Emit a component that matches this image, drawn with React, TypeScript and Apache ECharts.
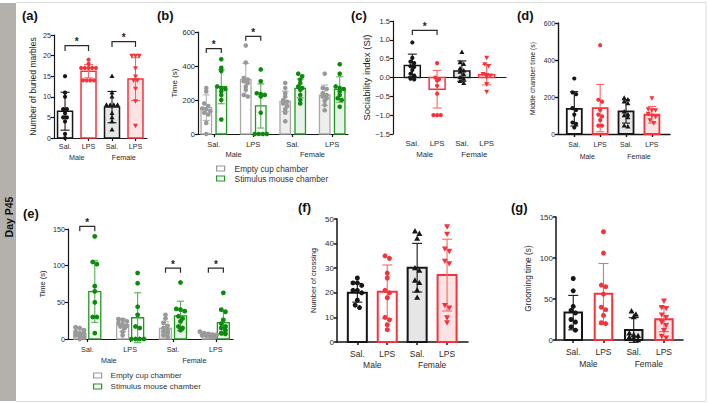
import React, { useEffect, useRef } from 'react';
import * as echarts from 'echarts';

const FONT = '"Liberation Sans", Arial, Helvetica, sans-serif';

// ---------- shared labels ----------
const catLabels = ['Sal.', 'LPS', 'Sal.', 'LPS'];
const sexLabels = ['Male', 'Female'];
const legendLabels = ['Empty cup chamber', 'Stimulus mouse chamber'];

// ---------- (a) buried marbles ----------
const aMeans = [6.5, 16.2, 7.5, 14.3];
const aSDs = [4.6, 1.6, 3.8, 5.2];
const aMaleSal = [15, 11, 10, 7, 7, 6, 5, 5, 4, 1, 0];
const aMaleLps = [19, 18, 17, 17, 17, 17, 17, 14, 14, 14, 14];
const aFemaleSal = [15, 11, 10, 8, 8, 8, 8, 6, 5, 4, 2];
const aFemaleLps = [20, 20, 20, 17, 15, 14, 14, 12, 9, 3];

// ---------- (b) three-chamber time (s) ----------
// order: M-Sal empty, M-Sal stim, M-LPS empty, M-LPS stim, F-Sal empty, F-Sal stim, F-LPS empty, F-LPS stim
const bMeans = [155, 278, 320, 165, 192, 268, 228, 262];
const bSDs = [75, 100, 95, 130, 60, 55, 60, 75];
const bMaleSalEmpty = [270, 250, 180, 165, 150, 145, 135, 125, 115, 65, 0];
const bMaleSalStim = [440, 390, 370, 280, 270, 265, 250, 230, 200, 85];
const bMaleLpsEmpty = [520, 420, 330, 320, 310, 300, 280, 260, 230, 220];
const bMaleLpsStim = [380, 310, 240, 235, 230, 220, 125, 0, 0, 0, 0];
const bFemaleSalEmpty = [300, 270, 240, 220, 200, 190, 180, 165, 145, 125, 75];
const bFemaleSalStim = [355, 340, 320, 300, 280, 270, 260, 230, 200, 180];
const bFemaleLpsEmpty = [355, 270, 265, 240, 230, 220, 210, 195, 170, 140];
const bFemaleLpsStim = [410, 355, 280, 270, 265, 250, 230, 210, 200, 160];

// ---------- (c) sociability index ----------
const cMeans = [0.32, -0.31, 0.17, 0.075];
const cSDs = [0.3, 0.5, 0.27, 0.27];
const cMaleSal = [0.93, 0.52, 0.42, 0.38, 0.3, 0.28, 0.2, 0.1, 0.05, -0.03, -0.05];
const cMaleLps = [0.38, 0.0, -0.05, -0.08, -0.22, -0.43, -1, -1, -1];
const cFemaleSal = [0.67, 0.4, 0.35, 0.24, 0.18, 0.15, 0.08, 0.0, -0.04, -0.1, -0.15];
const cFemaleLps = [0.53, 0.36, 0.31, 0.1, 0.07, 0.06, 0.02, -0.17, -0.37];

// ---------- (d) middle chamber time ----------
const dMeans = [136, 140, 122, 104];
const dSDs = [93, 128, 63, 45];
const dMaleSal = [300, 225, 215, 140, 130, 105, 62, 55, 35];
const dMaleLps = [480, 185, 175, 130, 105, 95, 75, 45, 45];
const dFemaleSal = [195, 185, 175, 165, 120, 105, 100, 90, 45, 40];
const dFemaleLps = [195, 135, 130, 130, 110, 100, 95, 75, 60];

// ---------- (e) social novelty time (s) ----------
const eMeans = [7.8, 64.7, 19, 29, 14.6, 31.5, 5.5, 22.3];
const eSDs = [5, 42, 9, 34, 9, 20, 2.5, 17];
const eMaleSalEmpty = [16, 15, 12, 10, 8, 7, 5, 4, 2, 0];
const eMaleSalStim = [140, 105, 102, 72, 65, 50, 30, 30, 8];
const eMaleLpsEmpty = [27, 26, 24, 22, 20, 18, 17, 15, 10, 5];
const eMaleLpsStim = [90, 76, 44, 33, 17, 15, 0, 0, 0, 0];
const eFemaleSalEmpty = [33, 28, 22, 18, 15, 12, 10, 8, 5, 3];
const eFemaleSalStim = [77, 41, 40, 38, 31, 28, 24, 17, 15, 12];
const eFemaleLpsEmpty = [10, 8, 7, 6, 6, 5, 4, 3, 2];
const eFemaleLpsStim = [63, 40, 37, 26, 21, 17, 15, 12, 8, 7];

// ---------- (f) number of crossing ----------
const fMeans = [20, 20.4, 30.2, 27.2];
const fSDs = [3.8, 10.9, 9.9, 14.6];
const fMaleSal = [26, 24, 24, 23, 21, 21, 20, 17, 15, 14];
const fMaleLps = [35, 34, 28, 26, 21, 20, 18, 10, 9, 7, 5];
const fFemaleSal = [45, 44, 42, 30, 29, 25, 24, 21, 18];
const fFemaleLps = [47, 44, 38, 37, 33, 32, 15, 14, 10, 8];

// ---------- (g) grooming time ----------
const gMeans = [33.4, 56.3, 12.2, 25.3];
const gSDs = [21, 37, 15, 15];
const gMaleSal = [75, 60, 41, 36, 33, 25, 22, 16, 12];
const gMaleLps = [132, 106, 67, 65, 56, 40, 37, 30, 21, 20];
const gFemaleSal = [35, 31, 28, 8, 6, 5, 3, 2, 0];
const gFemaleLps = [48, 40, 39, 31, 28, 22, 18, 12, 5, 3];

// ---------- styles ----------
const RED = '#f5333b';
const RED_ERR = '#ff6464';
const GREEN = '#1e9a1e';
const GREEN_PT = '#0c8a0c';
const GREEN_ERR = '#52b352';
const GRAY = '#a8a8a8';
const GRAY_PT = '#999999';
const GRAY_ERR = '#b3b3b3';
const BLACK = '#161616';

type StyleKey = 'mSal' | 'mLps' | 'fSal' | 'fLps' | 'mEmpty' | 'mStim' | 'fEmpty' | 'fStim';
const STYLE_KEYS: StyleKey[] = ['mSal', 'mLps', 'fSal', 'fLps', 'mEmpty', 'mStim', 'fEmpty', 'fStim'];
const STYLES: Record<StyleKey, { stroke: string; fill: string; err: string; pt: string; marker: string }> = {
  mSal: { stroke: BLACK, fill: '#ffffff', err: BLACK, pt: BLACK, marker: 'circle' },
  mLps: { stroke: RED, fill: '#ffffff', err: RED_ERR, pt: RED, marker: 'circle' },
  fSal: { stroke: BLACK, fill: '#e6e6e6', err: BLACK, pt: BLACK, marker: 'tri' },
  fLps: { stroke: RED, fill: '#fde3e3', err: RED_ERR, pt: RED, marker: 'triDown' },
  mEmpty: { stroke: GRAY, fill: '#ffffff', err: GRAY_ERR, pt: GRAY_PT, marker: 'circle' },
  mStim: { stroke: GREEN, fill: '#ffffff', err: GREEN_ERR, pt: GREEN_PT, marker: 'circle' },
  fEmpty: { stroke: GRAY, fill: '#eeeeee', err: GRAY_ERR, pt: GRAY_PT, marker: 'circle' },
  fStim: { stroke: GREEN, fill: '#e9f2e9', err: GREEN_ERR, pt: GREEN_PT, marker: 'circle' },
};

interface Bar { x: number; mean: number; sd: number; pts: number[]; style: StyleKey }
interface Bracket { from: number; to: number; y: number }
interface Panel {
  id: string;
  grid: { left: number; top: number; width: number; height: number };
  yMin: number; yMax: number; yInterval: number; yName: string; yNameGap: number; yNameSize: number;
  yFmt?: (v: number) => string;
  xMin: number; xMax: number;
  tickFont: number; yTickFont: number; labelMargin: number; sexMargin: number;
  barWidth: number; barLine: number; axisWidth: number; r: number; capW: number;
  bars: Bar[]; brackets: Bracket[]; leg: number;
  zeroLine?: boolean; xTicks: boolean; eight?: boolean;
}

function fourBars(means: number[], sds: number[], pts: number[][]): Bar[] {
  const st: StyleKey[] = ['mSal', 'mLps', 'fSal', 'fLps'];
  return [0, 1, 2, 3].map((i) => ({ x: i, mean: means[i], sd: sds[i], pts: pts[i], style: st[i] }));
}
function eightBars(means: number[], sds: number[], pts: number[][], d: number): Bar[] {
  const st: StyleKey[] = ['mEmpty', 'mStim', 'mEmpty', 'mStim', 'fEmpty', 'fStim', 'fEmpty', 'fStim'];
  return means.map((m, i) => ({ x: Math.floor(i / 2) + (i % 2 ? d : -d), mean: m, sd: sds[i], pts: pts[i], style: st[i] }));
}

const panels: Panel[] = [
  {
    id: 'a', grid: { left: 54, top: 35, width: 93, height: 103 },
    yMin: 0, yMax: 25, yInterval: 5, yName: 'Number of buried marbles', yNameGap: 17, yNameSize: 8.5,
    xMin: -0.47, xMax: 3.49, tickFont: 7.2, yTickFont: 7.2, labelMargin: 5, sexMargin: 15.5,
    barWidth: 15, barLine: 1.5, axisWidth: 1.2, r: 2.1, capW: 9,
    bars: fourBars(aMeans, aSDs, [aMaleSal, aMaleLps, aFemaleSal, aFemaleLps]),
    brackets: [{ from: 0, to: 1, y: 22.4 }, { from: 2, to: 3, y: 23.4 }], leg: 1.3, xTicks: true,
  },
  {
    id: 'b', grid: { left: 198, top: 32, width: 150, height: 102 },
    yMin: 0, yMax: 600, yInterval: 200, yName: 'Time (s)', yNameGap: 20, yNameSize: 8,
    xMin: -0.4, xMax: 3.4, tickFont: 7.5, yTickFont: 7.5, labelMargin: 6, sexMargin: 16.5,
    barWidth: 10.5, barLine: 1.3, axisWidth: 1.2, r: 2.3, capW: 7,
    bars: eightBars(bMeans, bSDs, [bMaleSalEmpty, bMaleSalStim, bMaleLpsEmpty, bMaleLpsStim, bFemaleSalEmpty, bFemaleSalStim, bFemaleLpsEmpty, bFemaleLpsStim], 0.19),
    brackets: [{ from: 0, to: 1, y: 502 }, { from: 2, to: 3, y: 574 }], leg: 25, xTicks: true, eight: true,
  },
  {
    id: 'c', grid: { left: 393, top: 21, width: 113, height: 113 },
    yMin: -1.5, yMax: 1.5, yInterval: 0.5, yName: 'Sociability index (SI)', yNameGap: 19, yNameSize: 9.5,
    yFmt: (v: number) => (v < -1e-9 ? '\u2212' : '') + Math.abs(v).toFixed(1),
    xMin: -0.78, xMax: 3.78, tickFont: 7.8, yTickFont: 7.5, labelMargin: 5, sexMargin: 16.5,
    barWidth: 16, barLine: 1.5, axisWidth: 1.2, r: 2.1, capW: 9,
    bars: fourBars(cMeans, cSDs, [cMaleSal, cMaleLps, cFemaleSal, cFemaleLps]),
    brackets: [{ from: 0, to: 1, y: 1.25 }], leg: 0.12, zeroLine: true, xTicks: false,
  },
  {
    id: 'd', grid: { left: 558, top: 23, width: 112, height: 111 },
    yMin: 0, yMax: 600, yInterval: 200, yName: 'Middle chamber time (s)', yNameGap: 22, yNameSize: 6.8,
    xMin: -0.63, xMax: 3.7, tickFont: 7, yTickFont: 6.8, labelMargin: 7, sexMargin: 19,
    barWidth: 15, barLine: 1.8, axisWidth: 1.4, r: 2.1, capW: 8,
    bars: fourBars(dMeans, dSDs, [dMaleSal, dMaleLps, dFemaleSal, dFemaleLps]),
    brackets: [], leg: 0, xTicks: true,
  },
  {
    id: 'e', grid: { left: 68, top: 229, width: 165, height: 110 },
    yMin: 0, yMax: 150, yInterval: 50, yName: 'Time (s)', yNameGap: 22, yNameSize: 7.5,
    xMin: -0.45, xMax: 3.4, tickFont: 7.2, yTickFont: 7.2, labelMargin: 6.5, sexMargin: 18,
    barWidth: 12, barLine: 1.3, axisWidth: 1.2, r: 2.4, capW: 7,
    bars: eightBars(eMeans, eSDs, [eMaleSalEmpty, eMaleSalStim, eMaleLpsEmpty, eMaleLpsStim, eFemaleSalEmpty, eFemaleSalStim, eFemaleLpsEmpty, eFemaleLpsStim], 0.175),
    brackets: [{ from: 0, to: 1, y: 153.5 }, { from: 4, to: 5, y: 96.7 }, { from: 6, to: 7, y: 96.7 }], leg: 6.5, xTicks: true, eight: true,
  },
  {
    id: 'f', grid: { left: 337, top: 219, width: 131, height: 123 },
    yMin: 0, yMax: 50, yInterval: 10, yName: 'Number of crossing', yNameGap: 20, yNameSize: 7.5,
    xMin: -0.68, xMax: 3.7, tickFont: 8.5, yTickFont: 8, labelMargin: 7, sexMargin: 18,
    barWidth: 19, barLine: 2, axisWidth: 1.5, r: 2.5, capW: 10,
    bars: fourBars(fMeans, fSDs, [fMaleSal, fMaleLps, fFemaleSal, fFemaleLps]),
    brackets: [], leg: 0, xTicks: true,
  },
  {
    id: 'g', grid: { left: 556, top: 217, width: 127, height: 123 },
    yMin: 0, yMax: 150, yInterval: 50, yName: 'Grooming time (s)', yNameGap: 24, yNameSize: 8.3,
    xMin: -0.57, xMax: 3.63, tickFont: 8.5, yTickFont: 8, labelMargin: 7, sexMargin: 19.5,
    barWidth: 17.5, barLine: 2, axisWidth: 1.5, r: 2.5, capW: 10,
    bars: fourBars(gMeans, gSDs, [gMaleSal, gMaleLps, gFemaleSal, gFemaleLps]),
    brackets: [], leg: 0, xTicks: true,
  },
];

const panelLabels = [
  { text: '(a)', x: 22, y: 15 }, { text: '(b)', x: 157, y: 15 }, { text: '(c)', x: 351, y: 15 },
  { text: '(d)', x: 517, y: 15 }, { text: '(e)', x: 23, y: 213 }, { text: '(f)', x: 298, y: 207 },
  { text: '(g)', x: 511, y: 207 },
];

// spread points of equal-ish height side by side (column scatter layout)
function swarm(vals: number[], ppu: number, sp: number): number[] {
  const order = vals.map((_, i) => i).sort((a, b) => vals[b] - vals[a]);
  const out = new Array(vals.length).fill(0);
  let row: number[] = [];
  let rowY = 0;
  const flush = () => {
    row.forEach((idx, j) => { out[idx] = (j - (row.length - 1) / 2) * sp; });
    row = [];
  };
  for (const i of order) {
    const y = vals[i] * ppu;
    if (row.length && Math.abs(rowY - y) < sp * 0.8) row.push(i);
    else { flush(); row = [i]; rowY = y; }
  }
  flush();
  return out;
}

function buildOption() {
  const grids: any[] = [];
  const xAxes: any[] = [];
  const yAxes: any[] = [];
  const series: any[] = [];

  panels.forEach((p, gi) => {
    grids.push({ ...p.grid, containLabel: false });
    const axisLineStyle = { color: BLACK, width: p.axisWidth };
    const xi = xAxes.length;
    const ticks = [0, 1, 2, 3];
    xAxes.push({
      gridIndex: gi, type: 'value', position: 'bottom', min: p.xMin, max: p.xMax,
      axisLine: { show: !p.zeroLine, onZero: false, lineStyle: axisLineStyle },
      axisTick: { show: p.xTicks, customValues: ticks, length: 3, lineStyle: axisLineStyle },
      axisLabel: {
        customValues: ticks, formatter: (v: number) => catLabels[Math.round(v)] ?? '',
        fontSize: p.tickFont, color: '#2a2a2a', fontFamily: FONT, margin: p.labelMargin,
        showMinLabel: true, showMaxLabel: true,
      },
      splitLine: { show: false },
    });
    xAxes.push({
      gridIndex: gi, type: 'value', position: 'bottom', min: p.xMin, max: p.xMax,
      axisLine: { show: false, onZero: false }, axisTick: { show: false },
      axisLabel: {
        customValues: [0.5, 2.5], formatter: (v: number) => (v < 1.5 ? sexLabels[0] : sexLabels[1]),
        fontSize: p.tickFont, color: '#2a2a2a', fontFamily: FONT, margin: p.sexMargin,
      },
      splitLine: { show: false },
    });
    if (p.zeroLine) {
      xAxes.push({
        gridIndex: gi, type: 'value', position: 'bottom', min: p.xMin, max: p.xMax,
        axisLine: { show: true, onZero: true, lineStyle: axisLineStyle },
        axisTick: { show: false }, axisLabel: { show: false }, splitLine: { show: false },
      });
    }
    yAxes.push({
      gridIndex: gi, type: 'value', position: 'left', min: p.yMin, max: p.yMax, interval: p.yInterval,
      axisLine: { show: true, onZero: false, lineStyle: axisLineStyle },
      axisTick: { show: true, length: 3, lineStyle: axisLineStyle },
      axisLabel: {
        fontSize: p.yTickFont, color: '#2a2a2a', fontFamily: FONT, margin: 3,
        formatter: p.yFmt ? p.yFmt : (v: number) => String(v),
        showMinLabel: true, showMaxLabel: true,
      },
      splitLine: { show: false },
      name: p.yName, nameLocation: 'middle', nameGap: p.yNameGap,
      nameTextStyle: { fontSize: p.yNameSize, color: '#222', fontFamily: FONT },
    });

    const bw = p.barWidth;
    const barRender = (params: any, api: any) => {
      const x = api.value(0);
      const m = api.value(1);
      const s = STYLES[STYLE_KEYS[api.value(2)]];
      const top = api.coord([x, m]);
      const base = api.coord([x, 0]);
      return {
        type: 'rect',
        shape: { x: top[0] - bw / 2, y: Math.min(top[1], base[1]), width: bw, height: Math.abs(base[1] - top[1]) },
        style: { fill: s.fill, stroke: s.stroke, lineWidth: p.barLine },
      };
    };
    const barData = p.bars.map((b) => [b.x, b.mean, STYLE_KEYS.indexOf(b.style)]);
    if (p.eight) {
      series.push({ type: 'custom', name: legendLabels[0], xAxisIndex: xi, yAxisIndex: gi, silent: true, z: 2, renderItem: barRender, data: barData.filter((_, i) => i % 2 === 0) });
      series.push({ type: 'custom', name: legendLabels[1], xAxisIndex: xi, yAxisIndex: gi, silent: true, z: 2, renderItem: barRender, data: barData.filter((_, i) => i % 2 === 1) });
    } else {
      series.push({ type: 'custom', name: p.id + '-bars', xAxisIndex: xi, yAxisIndex: gi, silent: true, z: 2, renderItem: barRender, data: barData });
    }

    // error bars (mean ± SD)
    const cap = p.capW;
    series.push({
      type: 'custom', name: p.id + '-sd', xAxisIndex: xi, yAxisIndex: gi, silent: true, z: 3,
      data: p.bars.map((b) => [b.x, b.mean, b.sd, STYLE_KEYS.indexOf(b.style)]),
      renderItem: (params: any, api: any) => {
        const x = api.value(0), m = api.value(1), sd = api.value(2);
        const s = STYLES[STYLE_KEYS[api.value(3)]];
        const t = api.coord([x, m + sd]);
        const b = api.coord([x, m - sd]);
        const ls = { stroke: s.err, lineWidth: 1.1 };
        return {
          type: 'group',
          children: [
            { type: 'line', shape: { x1: t[0], y1: t[1], x2: b[0], y2: b[1] }, style: ls },
            { type: 'line', shape: { x1: t[0] - cap / 2, y1: t[1], x2: t[0] + cap / 2, y2: t[1] }, style: ls },
            { type: 'line', shape: { x1: b[0] - cap / 2, y1: b[1], x2: b[0] + cap / 2, y2: b[1] }, style: ls },
          ],
        };
      },
    });

    // individual points
    const ppu = p.grid.height / (p.yMax - p.yMin);
    const r = p.r;
    const ptData: number[][] = [];
    p.bars.forEach((b) => {
      const offs = swarm(b.pts, ppu, r * 1.75);
      b.pts.forEach((v, k) => ptData.push([b.x, v, offs[k], STYLE_KEYS.indexOf(b.style)]));
    });
    series.push({
      type: 'custom', name: p.id + '-pts', xAxisIndex: xi, yAxisIndex: gi, silent: true, z: 4,
      data: ptData,
      renderItem: (params: any, api: any) => {
        const c = api.coord([api.value(0), api.value(1)]);
        const cx = c[0] + api.value(2), cy = c[1];
        const s = STYLES[STYLE_KEYS[api.value(3)]];
        if (s.marker === 'tri') {
          return { type: 'polygon', shape: { points: [[cx, cy - r * 1.3], [cx - r * 1.2, cy + r * 0.85], [cx + r * 1.2, cy + r * 0.85]] }, style: { fill: s.pt } };
        }
        if (s.marker === 'triDown') {
          return { type: 'polygon', shape: { points: [[cx, cy + r * 1.3], [cx - r * 1.2, cy - r * 0.85], [cx + r * 1.2, cy - r * 0.85]] }, style: { fill: s.pt } };
        }
        return { type: 'circle', shape: { cx, cy, r }, style: { fill: s.pt } };
      },
    });

    // significance brackets
    if (p.brackets.length) {
      const leg = p.leg;
      series.push({
        type: 'custom', name: p.id + '-sig', xAxisIndex: xi, yAxisIndex: gi, silent: true, z: 5,
        encode: { x: [0, 1], y: 2 },
        data: p.brackets.map((br) => [p.bars[br.from].x, p.bars[br.to].x, br.y]),
        renderItem: (params: any, api: any) => {
          const x1 = api.value(0), x2 = api.value(1), y = api.value(2);
          const a = api.coord([x1, y - leg]);
          const b = api.coord([x1, y]);
          const c = api.coord([x2, y]);
          const d = api.coord([x2, y - leg]);
          return {
            type: 'group',
            children: [
              { type: 'polyline', shape: { points: [a, b, c, d] }, style: { stroke: '#2b2b2b', lineWidth: 1.2, fill: null } },
              { type: 'text', x: (b[0] + c[0]) / 2, y: b[1] - 4, style: { text: '*', fill: '#222', font: `bold 10px ${FONT}`, align: 'center', verticalAlign: 'middle' } },
            ],
          };
        },
      });
    }
  });

  const legendData = [
    { name: legendLabels[0], icon: 'rect', itemStyle: { color: '#ffffff', borderColor: '#9a9a9a', borderWidth: 1.2 } },
    { name: legendLabels[1], icon: 'rect', itemStyle: { color: '#ffffff', borderColor: GREEN, borderWidth: 1.2 } },
  ];
  const legendCommon = {
    orient: 'vertical', padding: 0, itemWidth: 8, itemHeight: 5, selectedMode: false,
    data: legendData,
  };

  const graphic: any[] = [
    { type: 'rect', shape: { x: 0, y: 3, width: 16, height: 398 }, style: { fill: '#b4b0ac' }, silent: true },
    { type: 'line', shape: { x1: 16, y1: 2.5, x2: 706, y2: 2.5 }, style: { stroke: '#dcdcdc', lineWidth: 1 }, silent: true },
    { type: 'line', shape: { x1: 706, y1: 2.5, x2: 706, y2: 401.5 }, style: { stroke: '#dcdcdc', lineWidth: 1 }, silent: true },
    { type: 'line', shape: { x1: 16, y1: 401.5, x2: 706, y2: 401.5 }, style: { stroke: '#dcdcdc', lineWidth: 1 }, silent: true },
    {
      type: 'text', x: 8.5, y: 217, rotation: Math.PI / 2, silent: true,
      style: { text: 'Day P45', font: `bold 10.5px ${FONT}`, fill: '#111', align: 'center', verticalAlign: 'middle' },
    },
    ...panelLabels.map((l) => ({
      type: 'text', x: l.x, y: l.y, silent: true,
      style: { text: l.text, font: `bold 13px ${FONT}`, fill: '#111', align: 'left', verticalAlign: 'middle' },
    })),
  ];

  return {
    animation: false,
    backgroundColor: '#ffffff',
    textStyle: { fontFamily: FONT },
    grid: grids,
    xAxis: xAxes,
    yAxis: yAxes,
    legend: [
      { ...legendCommon, left: 216, top: 163.5, itemGap: 0, textStyle: { fontSize: 8.3, color: '#333', fontFamily: FONT, lineHeight: 10, padding: [0, 0, 0, 5] } },
      { ...legendCommon, left: 93, top: 370.5, itemGap: 1, textStyle: { fontSize: 8, color: '#333', fontFamily: FONT, lineHeight: 10, padding: [0, 0, 0, 4] } },
    ],
    graphic,
    series,
  };
}

export default function App() {
  const ref = useRef<HTMLDivElement>(null);
  useEffect(() => {
    if (!ref.current) return;
    const chart = echarts.init(ref.current, undefined, { renderer: 'svg' });
    chart.setOption(buildOption() as any);
    return () => chart.dispose();
  }, []);
  return <div ref={ref} style={{ position: 'absolute', left: 0, top: 0, width: 709, height: 404 }} />;
}
